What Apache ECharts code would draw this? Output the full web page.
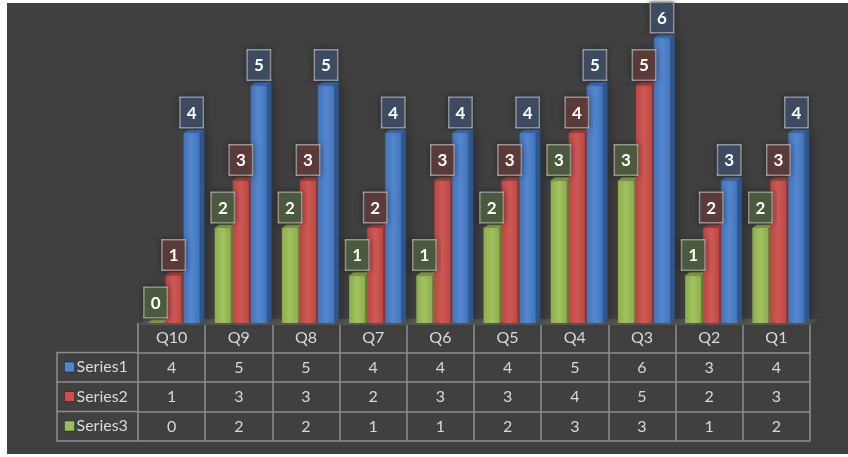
<!DOCTYPE html>
<html>
<head>
<meta charset="utf-8">
<script src="https://cdn.jsdelivr.net/npm/echarts@6/dist/echarts.min.js"></script>
<style>html,body{margin:0;padding:0;background:#fff;}#c{width:848px;height:457px;}</style>
</head>
<body>
<div id="c"></div>
<script>
const categories = ['Q10','Q9','Q8','Q7','Q6','Q5','Q4','Q3','Q2','Q1'];
const series1 = [4,5,5,4,4,4,5,6,3,4];
const series2 = [1,3,3,2,3,3,4,5,2,3];
const series3 = [0,2,2,1,1,2,3,3,1,2];
const seriesNames = ['Series1','Series2','Series3'];

const FONT = 'Lato, "Open Sans", sans-serif';
const palette = {
  Series1: {front:['#4474b9','#5387cf','#4474b9'], side:'#2d5791', top:'#3c6cb0', label:'#3c4b62', legend:'#4f86cf'},
  Series2: {front:['#ba4643','#cf5a55','#ba4643'], side:'#87312e', top:'#a63d3a', label:'#5c3a3a', legend:'#cf4d4a'},
  Series3: {front:['#8cad4d','#a2c260','#8cad4d'], side:'#658036', top:'#819f46', label:'#4b5a3b', legend:'#9bc05a'}
};

function makeRender(slot, pal) {
  return function (params, api) {
    const ci = api.value(0), v = api.value(1);
    const p0 = api.coord([ci, 0]);
    const p1 = api.coord([ci, v]);
    const bw = api.size([1, 0])[0];
    const w = bw * 0.24, gap = bw * 0.028, dx = bw * 0.068, dy = bw * 0.05;
    const cx = p0[0] + slot * (w + gap) + bw * 0.03;
    const x0 = cx - w / 2, x1 = cx + w / 2, yb = p0[1], yt = p1[1];
    const grad = new echarts.graphic.LinearGradient(0, 0, 1, 0, [
      {offset: 0, color: pal.front[0]},
      {offset: 0.5, color: pal.front[1]},
      {offset: 1, color: pal.front[2]}
    ]);
    return {
      type: 'group',
      children: [
        {type: 'polygon', z2: 1, shape: {points: [[x1, yt], [x1 + dx, yt - dy], [x1 + dx, yb - dy], [x1, yb]]},
          style: {fill: pal.side, shadowBlur: 8, shadowColor: 'rgba(0,0,0,0.45)', shadowOffsetX: 3}},
        {type: 'polygon', z2: 2, shape: {points: [[x0, yt], [x0 + dx, yt - dy], [x1 + dx, yt - dy], [x1, yt]]},
          style: {fill: pal.top}},
        {type: 'rect', z2: 3, shape: {x: x0, y: yt, width: w, height: yb - yt},
          style: {fill: grad}},
        {type: 'text', z2: 100,
          style: {
            text: String(v), x: cx, y: yt - 6, align: 'center', verticalAlign: 'bottom',
            fill: '#ffffff', font: 'bold 17px ' + FONT,
            backgroundColor: pal.label, borderColor: '#a8a8a8', borderWidth: 1.5,
            padding: [7, 6, 5, 6],
            shadowBlur: 6, shadowColor: 'rgba(0,0,0,0.35)'
          }}
      ]
    };
  };
}

function mkSeries(name, values, slot) {
  const pal = palette[name];
  return {
    type: 'custom', name: name,
    xAxisIndex: 0, yAxisIndex: 0,
    itemStyle: {color: pal.legend},
    encode: {x: 0, y: 1},
    data: values.map((v, i) => [i, v]),
    renderItem: makeRender(slot, pal)
  };
}

const lineColor = '#8e8e8e';
const rowH = 29.5;
function rowAxis(offset, values, showTicks, showLabels) {
  return {
    type: 'category', data: categories, position: 'bottom', offset: offset, gridIndex: 0,
    axisLine: {show: true, lineStyle: {color: lineColor, width: 1.5}},
    axisTick: {show: showTicks, length: rowH, lineStyle: {color: lineColor, width: 1.5}},
    axisLabel: {show: showLabels, margin: 7, color: '#d9d9d9', fontSize: 16, fontFamily: FONT,
      formatter: function (val, idx) { return String(values[idx]); }},
    splitLine: {show: false}
  };
}

const chart = echarts.init(document.getElementById('c'), null, {renderer: 'canvas'});
const gl = 138, gr = 810, gb = 323;
chart.setOption({
  backgroundColor: '#ffffff',
  animation: false,
  grid: {left: gl, right: 848 - gr, top: 38, bottom: 457 - gb, containLabel: false},
  xAxis: [
    {
      type: 'category', data: categories, position: 'bottom', offset: 0,
      axisLine: {show: false},
      axisTick: {show: true, length: rowH, lineStyle: {color: lineColor, width: 1.5}},
      axisLabel: {margin: 7, color: '#d9d9d9', fontSize: 16, fontFamily: FONT},
      splitLine: {show: false}
    },
    rowAxis(rowH, series1, true, true),
    rowAxis(rowH * 2, series2, true, true),
    rowAxis(rowH * 3, series3, true, true),
    rowAxis(rowH * 4, series3, false, false)
  ],
  yAxis: {type: 'value', min: 0, max: 6, show: false, splitLine: {show: false}},
  legend: {
    orient: 'vertical', left: 64, top: 358, padding: 0,
    data: seriesNames, icon: 'rect', itemWidth: 10, itemHeight: 10,
    itemGap: rowH - 18, selectedMode: false,
    itemStyle: {borderColor: 'rgba(0,0,0,0.35)', borderWidth: 1},
    textStyle: {color: '#d9d9d9', fontSize: 16, fontFamily: FONT, lineHeight: 18, padding: [0, 0, 0, -3]}
  },
  graphic: [
    {type: 'rect', z: -10, silent: true, shape: {x: 7, y: 3, width: 841, height: 451}, style: {fill: '#404040'}},
    {type: 'polygon', z: 1, silent: true, shape: {points: [[gl + 2, gb + 2], [gr, gb + 2], [gr + 8, gb - 4], [gl + 8, gb - 4]]}, style: {fill: '#555555'}},
    {type: 'polyline', z: 5, silent: true, shape: {points: [[gl, gb + rowH], [57, gb + rowH], [57, gb + rowH * 4], [gl, gb + rowH * 4]]}, style: {stroke: lineColor, lineWidth: 1.5, fill: null}},
    {type: 'line', z: 5, silent: true, shape: {x1: 57, y1: gb + rowH * 2, x2: gl, y2: gb + rowH * 2}, style: {stroke: lineColor, lineWidth: 1.5}},
    {type: 'line', z: 5, silent: true, shape: {x1: 57, y1: gb + rowH * 3, x2: gl, y2: gb + rowH * 3}, style: {stroke: lineColor, lineWidth: 1.5}}
  ],
  series: [
    mkSeries('Series3', series3, -1),
    mkSeries('Series2', series2, 0),
    mkSeries('Series1', series1, 1)
  ]
});
</script>
</body>
</html>
